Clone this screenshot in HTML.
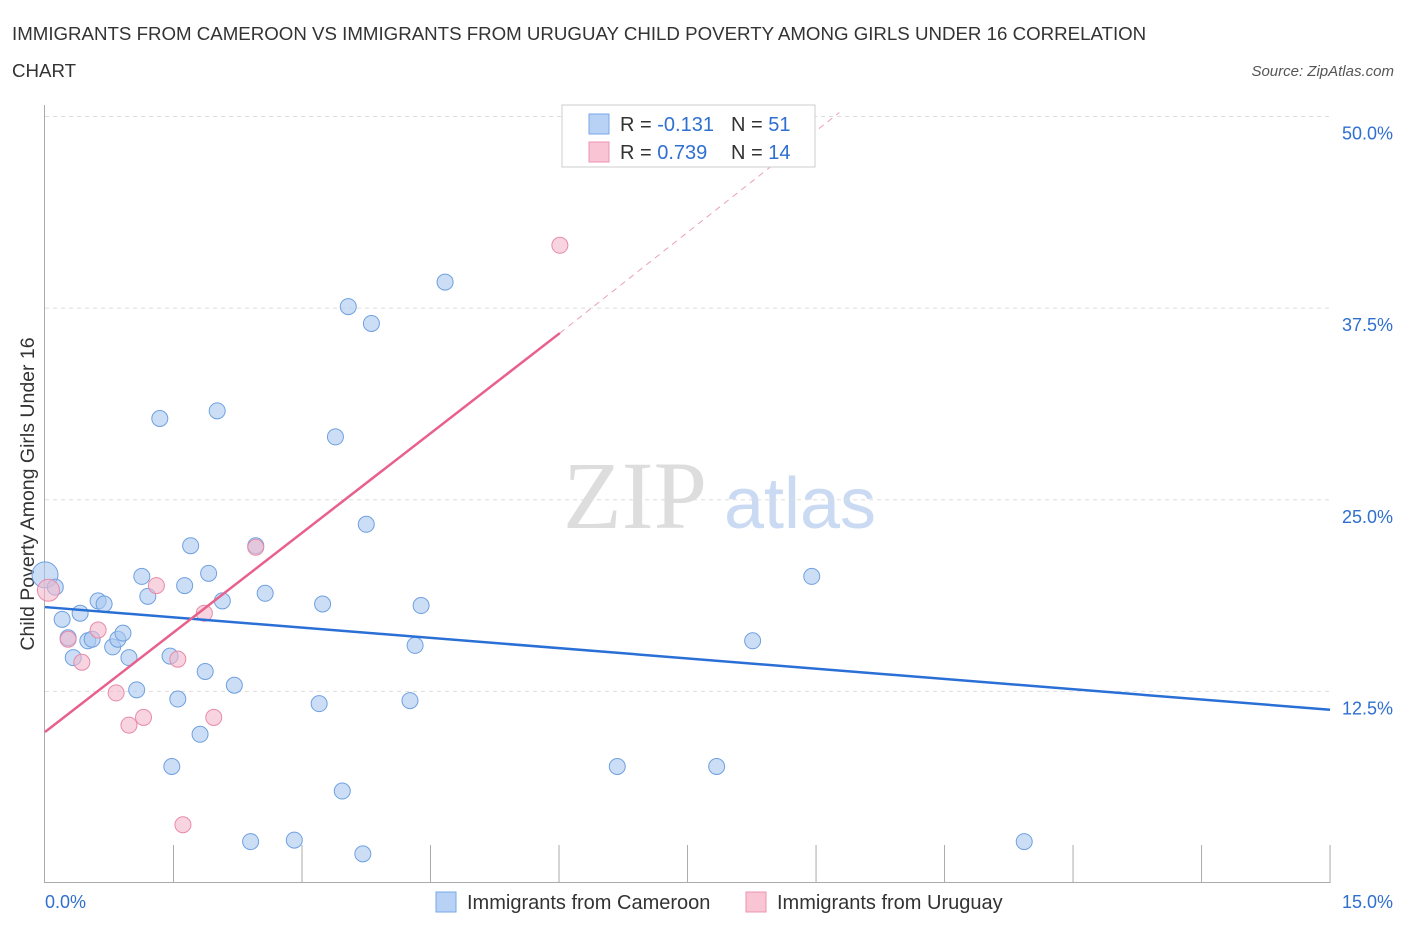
<!DOCTYPE html>
<html><head><meta charset="utf-8"><style>
body{margin:0;background:#fff;font-family:"Liberation Sans",sans-serif;}
svg text{font-family:"Liberation Sans",sans-serif;}
</style></head><body>
<svg width="1406" height="930" id="c">
<text x="12" y="40" font-size="18.7" fill="#333">IMMIGRANTS FROM CAMEROON VS IMMIGRANTS FROM URUGUAY CHILD POVERTY AMONG GIRLS UNDER 16 CORRELATION</text>
<text x="12" y="77" font-size="18.7" fill="#333">CHART</text>
<text x="1394" y="76" font-size="15" fill="#555" font-style="italic" text-anchor="end">Source: ZipAtlas.com</text>
<text x="635" y="528" font-size="96" fill="#ddd" text-anchor="middle" style="font-family:'Liberation Serif',serif">ZIP</text>
<text x="800" y="528" font-size="72" fill="#c9daf2" text-anchor="middle">atlas</text>
<text transform="translate(34,494) rotate(-90)" font-size="19.5" fill="#333" text-anchor="middle">Child Poverty Among Girls Under 16</text>
<g id="grid"></g><g id="marks"></g>
<g>
<rect x="562" y="105" width="253" height="62" fill="#fff" stroke="#ccc"/>
<rect x="589" y="114" width="20" height="20" fill="#b8d2f5" stroke="#7aa8e8"/>
<rect x="589" y="142" width="20" height="20" fill="#f9c4d4" stroke="#ec94b0"/>
<text x="620" y="131" font-size="20" fill="#333">R = <tspan fill="#2f6fd0">-0.131</tspan><tspan x="731">N = </tspan><tspan fill="#2f6fd0">51</tspan></text>
<text x="620" y="159" font-size="20" fill="#333">R = <tspan fill="#2f6fd0">0.739</tspan><tspan x="731">N = </tspan><tspan fill="#2f6fd0">14</tspan></text>
</g>
<g>
<rect x="436" y="892" width="20" height="20" fill="#b8d2f5" stroke="#7aa8e8"/>
<text x="467" y="909" font-size="20" fill="#333">Immigrants from Cameroon</text>
<rect x="746" y="892" width="20" height="20" fill="#f9c4d4" stroke="#ec94b0"/>
<text x="777" y="909" font-size="20" fill="#333">Immigrants from Uruguay</text>
</g>
</svg>
<script>
const yTicks=[12.5,25,37.5,50];
const yTickLabels=["12.5%","25.0%","37.5%","50.0%"];
const blueX=[0,.12,.20,.27,.41,.33,.50,.62,.69,.55,.79,.85,.91,.98,1.07,1.13,1.20,1.34,1.46,1.48,1.55,1.63,1.70,1.81,1.87,1.91,2.01,2.07,2.21,2.40,2.46,2.57,2.91,3.20,3.24,3.39,3.47,3.54,3.71,3.75,3.81,4.26,4.32,4.39,4.67,6.68,7.84,8.26,8.95,11.43];
const blueY=[20.1,19.3,17.2,16.0,17.6,14.7,15.8,18.4,18.2,15.9,15.4,15.9,16.3,14.7,12.6,20.0,18.7,30.3,14.8,7.6,12.0,19.4,22.0,9.7,13.8,20.2,30.8,18.4,12.9,2.7,22.0,18.9,2.8,11.7,18.2,29.1,6.0,37.6,1.9,23.4,36.5,11.9,15.5,18.1,39.2,7.6,7.6,15.8,20.0,2.7];
const pinkX=[.04,.27,.43,.62,.83,.98,1.15,1.30,1.55,1.61,1.86,1.97,2.46,6.01];
const pinkY=[19.1,15.9,14.4,16.5,12.4,10.3,10.8,19.4,14.6,3.8,17.6,10.8,21.9,41.6];
const blueTrend=[18.0,11.3];
const pinkTrend=[9.85,4.33];
const sx=v=>45+v*85.67, sy=v=>883-v*15.33;
const NS="http://www.w3.org/2000/svg";
function mk(t,a,p){const e=document.createElementNS(NS,t);for(const k in a)e.setAttribute(k,a[k]);p.appendChild(e);return e;}
const g=document.getElementById('grid'), m=document.getElementById('marks');
yTicks.forEach((t,i)=>{
 const l=mk('line',{x1:45,x2:1330,y1:sy(t),y2:sy(t),stroke:'#ddd','stroke-dasharray':'4,4'},g);
 
 
 const tx=mk('text',{x:1393,y:sy(t)+23,'font-size':18,fill:'#2f6fd0','text-anchor':'end'},g);
 tx.textContent=yTickLabels[i];
 
 
});
mk('line',{x1:44.5,x2:44.5,y1:105,y2:883,stroke:'#aaa'},g);
mk('line',{x1:44,x2:1330,y1:882.5,y2:882.5,stroke:'#aaa'},g);
for(let i=1;i<=10;i++){const x=sx(i*1.5);const l=mk('line',{x1:x,x2:x,y1:845,y2:883,stroke:'#aaa'},g);
 
 }
let t=mk('text',{x:45,y:908,'font-size':18,fill:'#2f6fd0'},g);t.textContent='0.0%';

t=mk('text',{x:1393,y:908,'font-size':18,fill:'#2f6fd0','text-anchor':'end'},g);t.textContent='15.0%';

blueX.forEach((x,i)=>{const c=mk('circle',{cx:sx(x),cy:sy(blueY[i]),r:i==0?13:8,fill:'rgba(168,200,240,0.6)',stroke:'#6fa0e0','stroke-width':1},m);
 
 });
pinkX.forEach((x,i)=>{const c=mk('circle',{cx:sx(x),cy:sy(pinkY[i]),r:i==0?11:8,fill:'rgba(244,184,204,0.6)',stroke:'#e88aa8','stroke-width':1},m);
 
 });
let l=mk('line',{x1:sx(0),y1:sy(blueTrend[0]),x2:sx(15),y2:sy(blueTrend[1]),stroke:'#2a6fd6','stroke-width':2.5},m);

const pe=6.01, pd=(50-pinkTrend[0])/pinkTrend[1];
l=mk('line',{x1:sx(0),y1:sy(pinkTrend[0]),x2:sx(pe),y2:sy(pinkTrend[0]+pinkTrend[1]*pe),stroke:'#e8608c','stroke-width':2.5},m);

l=mk('line',{x1:sx(pe),y1:sy(pinkTrend[0]+pinkTrend[1]*pe),x2:sx(pd),y2:sy(50)-4,stroke:'#eaa0b8','stroke-width':1,'stroke-dasharray':'6,5'},m);

</script>
</body></html>
